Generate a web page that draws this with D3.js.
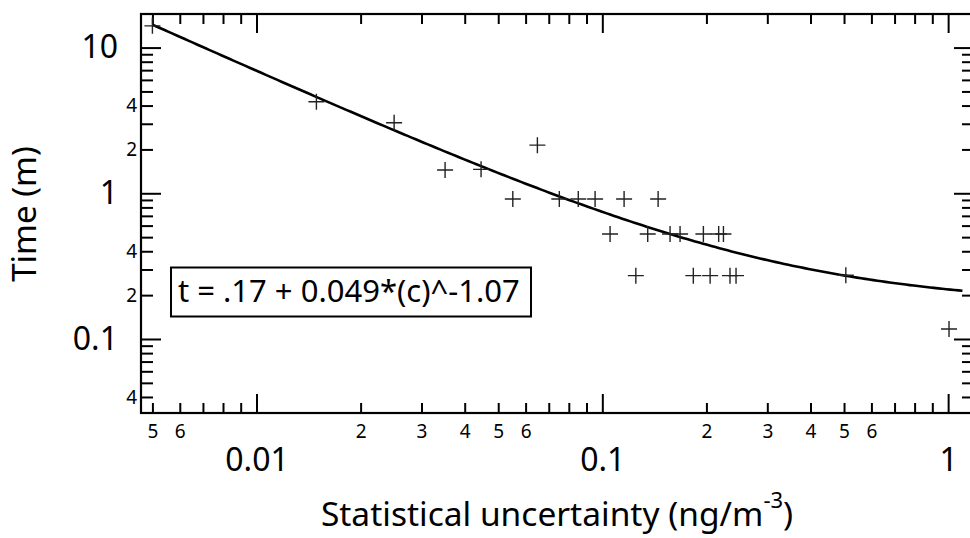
<!DOCTYPE html>
<html>
<head>
<meta charset="utf-8">
<script src="https://cdn.jsdelivr.net/npm/d3@7"></script>
<style>
  html, body { margin: 0; padding: 0; background: #fff; }
  svg { display: block; }
  text { font-family: "Noto Sans", "Open Sans", "DejaVu Sans", sans-serif; fill: #000; }
</style>
</head>
<body>
<svg id="chart" width="970" height="538"></svg>
<script>
// ---- Data ----
const uncertainty = [0.005, 0.0149, 0.025, 0.0351, 0.0446, 0.0649,
  0.0551, 0.0751, 0.0852, 0.0953, 0.1156, 0.145,
  0.1053, 0.1353, 0.157, 0.1678, 0.196, 0.217, 0.224,
  0.125, 0.1833, 0.205, 0.234, 0.2436,
  0.506, 1.006];
const time = [14.1, 4.25, 3.05, 1.445, 1.46, 2.14,
  0.914, 0.914, 0.914, 0.914, 0.914, 0.914,
  0.526, 0.526, 0.526, 0.526, 0.526, 0.526, 0.526,
  0.272, 0.272, 0.272, 0.272, 0.272,
  0.2735, 0.117];
const fitParams = [0.17, 0.049, -1.07];   // t = a + b * c^p
const fitRange = [0.005, 1.1];
const fitLabel = "t = .17 + 0.049*(c)^-1.07";

const xMajorTicks = [0.01, 0.1, 1];
const xMinorTicks = [0.005, 0.006, 0.007, 0.008, 0.009,
  0.02, 0.03, 0.04, 0.05, 0.06, 0.07, 0.08, 0.09,
  0.2, 0.3, 0.4, 0.5, 0.6, 0.7, 0.8, 0.9];
const xMinorLabels = ["5", "6", "", "", "", "2", "3", "4", "5", "6", "", "", "",
  "2", "3", "4", "5", "6", "", "", ""];
const xMajorLabels = ["0.01", "0.1", "1"];

const yMajorTicks = [0.1, 1, 10];
const yMinorTicks = [0.04, 0.05, 0.06, 0.07, 0.08, 0.09,
  0.2, 0.3, 0.4, 0.5, 0.6, 0.7, 0.8, 0.9,
  2, 3, 4, 5, 6, 7, 8, 9];
const yMinorLabels = ["4", "", "", "", "", "",
  "2", "", "4", "", "", "", "", "",
  "2", "", "4", "", "", "", "", ""];
const yMajorLabels = ["0.1", "1", "10"];

const xTitle = "Statistical uncertainty (ng/m";
const xTitleSup = "-3";
const xTitleEnd = ")";
const yTitle = "Time (m)";

// ---- Layout ----
const L = 141, R = 974, T = 14, B = 413;
const svg = d3.select("#chart");

const x = d3.scaleLog().domain([0.004634, 1.188]).range([L, R]);
const y = d3.scaleLog().domain([0.03105, 17.0]).range([B, T]);

function styleAxis(g) {
  g.select(".domain").remove();
  g.selectAll(".tick line").attr("stroke", "#000").attr("stroke-width", 2);
}

// Bottom axis: minor
svg.append("g").attr("transform", `translate(0,${B})`)
  .call(d3.axisBottom(x).tickValues(xMinorTicks).tickSize(-10).tickSizeOuter(0).tickPadding(12)
    .tickFormat((d, i) => xMinorLabels[i]))
  .call(styleAxis)
  .call(g => g.selectAll("text").attr("font-size", 19).attr("font-family", null));
// Bottom axis: major
svg.append("g").attr("transform", `translate(0,${B})`)
  .call(d3.axisBottom(x).tickValues(xMajorTicks).tickSize(-19).tickSizeOuter(0).tickPadding(35)
    .tickFormat((d, i) => xMajorLabels[i]))
  .call(styleAxis)
  .call(g => g.selectAll("text").attr("font-size", 32).attr("font-family", null));
// Top axis
svg.append("g").attr("transform", `translate(0,${T})`)
  .call(d3.axisTop(x).tickValues(xMinorTicks).tickSize(-10).tickSizeOuter(0).tickFormat(""))
  .call(styleAxis);
svg.append("g").attr("transform", `translate(0,${T})`)
  .call(d3.axisTop(x).tickValues(xMajorTicks).tickSize(-19).tickSizeOuter(0).tickFormat(""))
  .call(styleAxis);

// Left axis
svg.append("g").attr("transform", `translate(${L},0)`)
  .call(d3.axisLeft(y).tickValues(yMinorTicks).tickSize(-12).tickSizeOuter(0).tickPadding(4)
    .tickFormat((d, i) => yMinorLabels[i]))
  .call(styleAxis)
  .call(g => g.selectAll("text").attr("font-size", 19).attr("font-family", null));
svg.append("g").attr("transform", `translate(${L},0)`)
  .call(d3.axisLeft(y).tickValues(yMajorTicks).tickSize(-20).tickSizeOuter(0).tickPadding(23)
    .tickFormat((d, i) => yMajorLabels[i]))
  .call(styleAxis)
  .call(g => g.selectAll("text").attr("font-size", 32).attr("font-family", null));
// Right axis
svg.append("g").attr("transform", `translate(${R},0)`)
  .call(d3.axisRight(y).tickValues(yMinorTicks).tickSize(-12).tickSizeOuter(0).tickFormat(""))
  .call(styleAxis);
svg.append("g").attr("transform", `translate(${R},0)`)
  .call(d3.axisRight(y).tickValues(yMajorTicks).tickSize(-20).tickSizeOuter(0).tickFormat(""))
  .call(styleAxis);

// Frame
svg.append("rect").attr("x", L).attr("y", T).attr("width", R - L).attr("height", B - T)
  .attr("fill", "none").attr("stroke", "#000").attr("stroke-width", 2.2);

// Fit curve
const fitX = d3.range(0, 201).map(i => Math.pow(10, Math.log10(fitRange[0]) + i / 200 * (Math.log10(fitRange[1]) - Math.log10(fitRange[0]))));
const fit = c => fitParams[0] + fitParams[1] * Math.pow(c, fitParams[2]);
svg.append("path")
  .datum(fitX)
  .attr("fill", "none").attr("stroke", "#000").attr("stroke-width", 2.6)
  .attr("d", d3.line().x(d => x(d)).y(d => y(fit(d))));

// Markers
const m = 8;
const pts = svg.append("g").attr("stroke", "#222").attr("stroke-width", 1.4);
uncertainty.forEach((c, i) => {
  const px = x(c), py = y(time[i]);
  pts.append("path").attr("d", `M${px - m},${py}H${px + m}M${px},${py - m}V${py + m}`);
});

// Legend box
svg.append("rect").attr("x", 171).attr("y", 267.5).attr("width", 360).attr("height", 49)
  .attr("fill", "#fff").attr("stroke", "#000").attr("stroke-width", 2);
svg.append("text").attr("x", 178).attr("y", 302).attr("font-size", 31).text(fitLabel);

// Axis titles
const xt = svg.append("text").attr("x", 557).attr("y", 526).attr("text-anchor", "middle").attr("font-size", 33.5);
xt.append("tspan").text(xTitle);
xt.append("tspan").attr("font-size", 22).attr("dy", -18).text(xTitleSup);
xt.append("tspan").attr("dy", 18).text(xTitleEnd);

svg.append("text").attr("transform", "translate(36,214) rotate(-90)")
  .attr("text-anchor", "middle").attr("font-size", 33).text(yTitle);
</script>
</body>
</html>
